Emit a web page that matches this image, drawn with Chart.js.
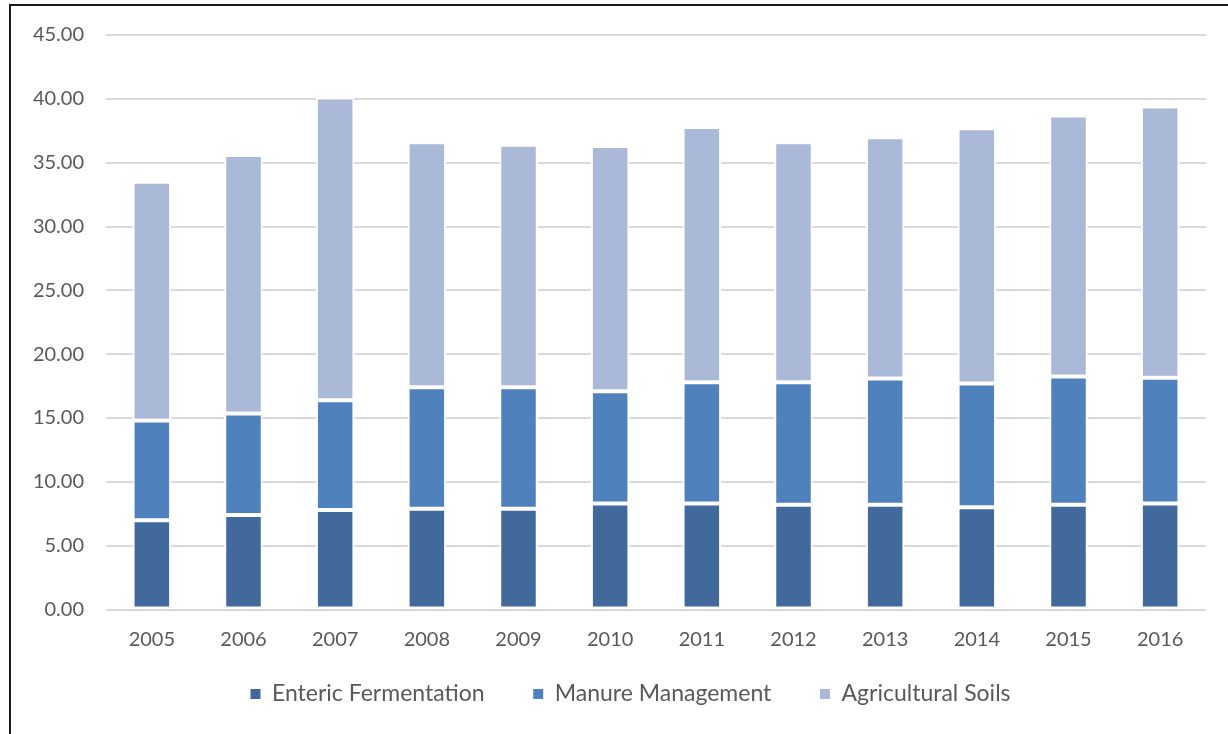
<!DOCTYPE html>
<html>
<head>
<meta charset="utf-8">
<script src="https://cdn.jsdelivr.net/npm/chart.js@4/dist/chart.umd.min.js"></script>
<style>
  html, body { margin: 0; padding: 0; background: #fff; overflow: hidden; }
  #frame {
    position: absolute; left: 9px; top: 4px;
    width: 1240px; height: 740px;
    border-left: 2px solid #1a1a1a; border-top: 2px solid #1a1a1a;
  }
  #wrap { position: absolute; left: 0; top: -5px; width: 1240px; height: 733px; }
</style>
</head>
<body>
<div id="frame"><div id="wrap"><canvas id="emissions-chart"></canvas></div></div>
<script>
const years = ["2005", "2006", "2007", "2008", "2009", "2010", "2011", "2012", "2013", "2014", "2015", "2016"];
const entericFermentation = [7.0, 7.4, 7.8, 7.9, 7.9, 8.3, 8.3, 8.2, 8.2, 8.0, 8.2, 8.3];
const manureManagement = [7.8, 7.95, 8.6, 9.5, 9.5, 8.8, 9.5, 9.6, 9.9, 9.7, 10.05, 9.85];
const agriculturalSoils = [18.7, 20.25, 23.7, 19.2, 19.0, 19.2, 20.0, 18.8, 18.9, 20.0, 20.45, 21.25];

const font = { family: "Lato", size: 20 };
const legendFont = { family: "Lato", size: 23 };
const textColor = "#595959";

function barSet(label, data, color) {
    return {
        label: label,
        data: data,
        backgroundColor: color,
        borderColor: "#ffffff",
        borderWidth: 2,
        borderSkipped: false,
        barPercentage: 0.42,
        categoryPercentage: 1.0
    };
}

// legend items sit further apart than the vertical padding allows, so pad the text
function legendLabels(chart) {
    const items = Chart.defaults.plugins.legend.labels.generateLabels(chart);
    items.forEach((item, i) => {
        if (i < items.length - 1) item.text = item.text + "   ";
        item.lineWidth = 0;
    });
    return items;
}

// the legend is centred on the whole frame, a bit right of the canvas centre
const legendShift = {
    id: 'legendShift',
    afterLayout(chart) {
        chart.legend.left += 22;
        chart.legend.right += 22;
    }
};

new Chart(document.getElementById('emissions-chart'), {
    type: 'bar',
    data: {
        labels: years,
        datasets: [
            barSet('Enteric Fermentation', entericFermentation, "#41699b"),
            barSet('Manure Management', manureManagement, "#4f81bd"),
            barSet('Agricultural Soils', agriculturalSoils, "#aab9d7")
        ]
    },
    options: {
        responsive: true,
        maintainAspectRatio: false,
        animation: false,
        layout: {
            padding: { left: 0, right: 45, top: 15, bottom: 18.5 }
        },
        plugins: {
            legend: {
                position: 'bottom',
                labels: {
                    font: legendFont,
                    color: textColor,
                    boxWidth: 10,
                    boxHeight: 10,
                    padding: 31,
                    generateLabels: legendLabels
                }
            },
            tooltip: { enabled: false }
        },
        scales: {
            x: {
                stacked: true,
                afterFit: function (scale) { scale.height = 42; },
                grid: { display: false, drawTicks: false },
                border: { display: false },
                ticks: { font: font, color: textColor, padding: 18 }
            },
            y: {
                stacked: true,
                min: 0,
                max: 45,
                afterFit: function (scale) { scale.width = 95; },
                grid: { color: "#d9d9d9", lineWidth: 2, drawTicks: false },
                border: { display: false },
                ticks: {
                    stepSize: 5,
                    font: font,
                    color: textColor,
                    padding: 22,
                    callback: function (value) { return value.toFixed(2); }
                }
            }
        }
    },
    plugins: [legendShift]
});
</script>
</body>
</html>
